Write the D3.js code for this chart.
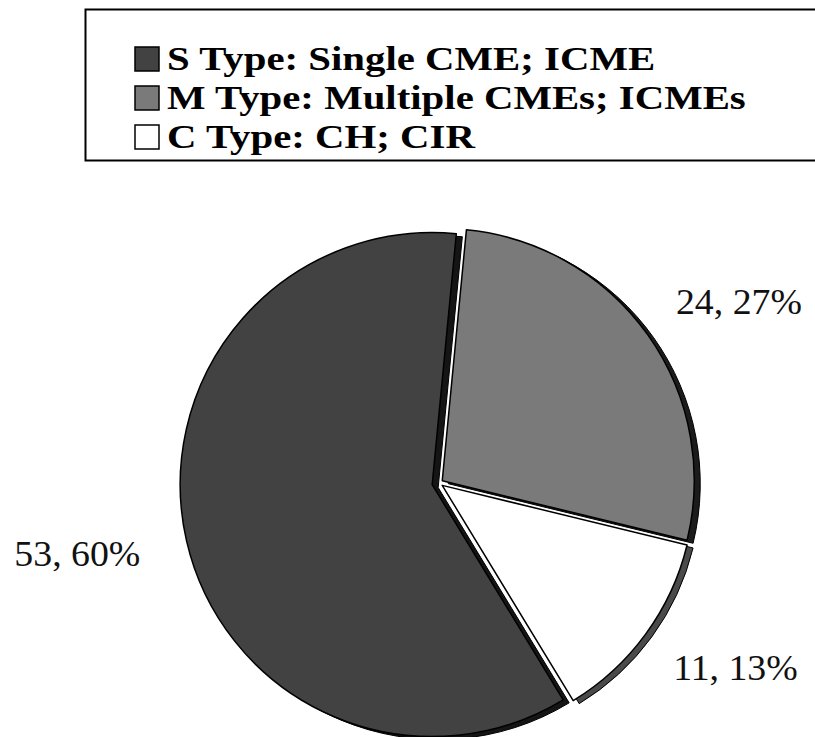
<!DOCTYPE html>
<html><head><meta charset="utf-8">
<script src="https://cdn.jsdelivr.net/npm/d3@7"></script>
<style>body{margin:0;background:#fff}</style>
</head><body>
<script>
var categories = ['S Type: Single CME; ICME', 'M Type: Multiple CMEs; ICMEs', 'C Type: CH; CIR'];
var counts = [53, 24, 11];
var percents = [60, 27, 13];

var fills = ['#424242', '#7a7a7a', '#ffffff'];
var sides = ['#151515', '#1c1c1c', '#4a4a4a'];

var width = 815, height = 737;
var cx = 439, cy = 483, r = 252;
var explode = [7, 4, 4];
var rot = 5.5 * Math.PI / 180;
var serif = '"Liberation Serif","Times New Roman",serif';

var svg = d3.select('body').append('svg').attr('width', width).attr('height', height);

// scanned text is wider than plain Times, so stretch it
function widen(k){
  return function(sel){
    sel.each(function(){
      var w = this.getComputedTextLength();
      d3.select(this).attr('textLength', w * k).attr('lengthAdjust', 'spacingAndGlyphs');
    });
  };
}

// legend box
var lg = svg.append('g').attr('font-family', serif).attr('font-weight', 'bold').attr('font-size', 34);
lg.append('rect').attr('x', 85.5).attr('y', 9.5).attr('width', 760).attr('height', 151)
  .attr('fill', 'none').attr('stroke', '#000').attr('stroke-width', 2);
var row = d3.scaleBand().domain(categories).range([50, 167]);
var item = lg.selectAll('g.item').data(categories).enter().append('g')
  .attr('transform', function(d){ return 'translate(0,' + row(d) + ')'; });
item.append('rect').attr('x', 135).attr('y', -3).attr('width', 24).attr('height', 24)
  .attr('fill', function(d, i){ return fills[i]; }).attr('stroke', '#000').attr('stroke-width', 1.5);
item.append('text').attr('x', 167).attr('y', 20).text(function(d){ return d; }).call(widen(1.2));

// pie
var total = d3.sum(counts);
var a0 = rot - counts[0] / total * 2 * Math.PI;
var pie = d3.pie().sort(null).startAngle(a0).endAngle(a0 + 2 * Math.PI);
var arcs = pie(counts);
var arc = d3.arc().innerRadius(0).outerRadius(r);

function mid(d){ return (d.startAngle + d.endAngle) / 2; }
function off(d, i, k){
  var m = mid(d);
  return [cx + (explode[i] + k) * Math.sin(m), cy - (explode[i] + k) * Math.cos(m)];
}

var g = svg.append('g');
// depth faces
g.selectAll('path.side').data(arcs).enter().append('path').attr('class', 'side')
  .attr('d', arc)
  .attr('transform', function(d, i){ var p = off(d, i, 0); return 'translate(' + (p[0] + 6) + ',' + (p[1] + 3) + ')'; })
  .attr('fill', function(d, i){ return sides[i]; }).attr('stroke', '#000').attr('stroke-width', 1);
// top faces
g.selectAll('path.top').data(arcs).enter().append('path').attr('class', 'top')
  .attr('d', arc)
  .attr('transform', function(d, i){ var p = off(d, i, 0); return 'translate(' + p[0] + ',' + p[1] + ')'; })
  .attr('fill', function(d, i){ return fills[i]; }).attr('stroke', '#000').attr('stroke-width', 1.5)
  .attr('stroke-linejoin', 'round');

// data labels, pushed outward by half their box along the mid angle
var labR = 296, labK = 1.08;
var labs = g.selectAll('text.lab').data(arcs).enter().append('text').attr('class', 'lab')
  .attr('text-anchor', 'middle').attr('font-family', serif).attr('font-size', 35).attr('fill', '#111')
  .text(function(d, i){ return counts[i] + ', ' + percents[i] + '%'; })
  .call(widen(labK));
labs.each(function(d, i){
  var m = mid(d), p = off(d, i, labR);
  var hw = this.getComputedTextLength() * labK / 2, hh = 13;
  d3.select(this).attr('x', p[0] + hw * Math.sin(m)).attr('y', p[1] - hh * Math.cos(m) + 12);
});
</script>
</body></html>
